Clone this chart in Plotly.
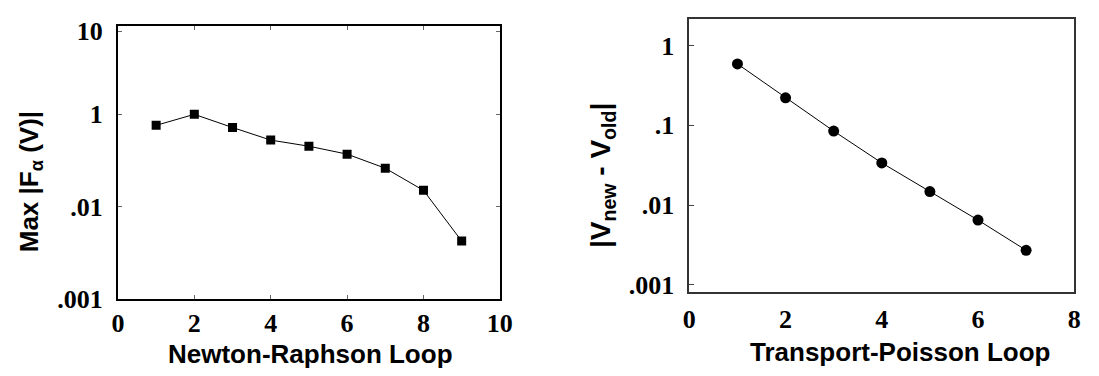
import plotly.graph_objects as go

# ---- data ----
nr_loop = [1, 2, 3, 4, 5, 6, 7, 8, 9]
nr_max_f = [0.578, 1.0, 0.519, 0.277, 0.204, 0.1375, 0.0681, 0.0226, 0.0018]

tp_loop = [1, 2, 3, 4, 5, 6, 7]
tp_diff = [0.588, 0.221, 0.0848, 0.0338, 0.0148, 0.0065, 0.00272]

left_ticks_vals = [10 ** 1.8, 1, 0.01, 1e-4]
left_ticks_text = ["10", "1", ".01", ".001"]
right_ticks_vals = [1, 0.1, 0.01, 0.001]
right_ticks_text = ["1", ".1", ".01", ".001"]
left_x_ticks = [0, 2, 4, 6, 8, 10]
right_x_ticks = [0, 2, 4, 6, 8]

W, H = 1099, 376

fig = go.Figure()
fig.add_trace(go.Scatter(
    x=nr_loop, y=nr_max_f, mode="lines+markers",
    line=dict(color="black", width=1),
    marker=dict(symbol="square", size=9, color="black"),
    xaxis="x", yaxis="y", showlegend=False))
fig.add_trace(go.Scatter(
    x=tp_loop, y=tp_diff, mode="lines+markers",
    line=dict(color="black", width=1),
    marker=dict(symbol="circle", size=11, color="black"),
    xaxis="x2", yaxis="y2", showlegend=False))

tickfont = dict(family="Liberation Serif", size=26, color="black", weight="bold")

fig.update_layout(
    width=W, height=H,
    margin=dict(l=0, r=0, t=0, b=0),
    paper_bgcolor="white", plot_bgcolor="white",
    xaxis=dict(domain=[113 / W, 502 / W], range=[0, 10], tickvals=left_x_ticks,
               showline=True, linecolor="black", linewidth=2, mirror="ticks",
               ticks="inside", ticklen=4, tickcolor="#666", showgrid=False, zeroline=False,
               tickfont=tickfont, ticklabelstandoff=0, anchor="y"),
    yaxis=dict(domain=[1 - 310 / H, 1 - 19 / H], type="log", range=[-4.0, 1.917],
               tickvals=left_ticks_vals, ticktext=left_ticks_text,
               showline=True, linecolor="black", linewidth=2, mirror="ticks",
               ticks="inside", ticklen=4, tickcolor="#666", showgrid=False, zeroline=False,
               tickfont=tickfont, ticklabelstandoff=8, anchor="x"),
    xaxis2=dict(domain=[695 / W, 1087 / W], range=[0, 8], tickvals=right_x_ticks,
                showline=True, linecolor="#333", linewidth=2, mirror=True,
                ticks="", showgrid=False, zeroline=False,
                tickfont=tickfont, ticklabelstandoff=2, anchor="y2"),
    yaxis2=dict(domain=[1 - 303 / H, 1 - 12 / H], type="log", range=[-3.094, 0.329],
                tickvals=right_ticks_vals, ticktext=right_ticks_text,
                showline=True, linecolor="#333", linewidth=2, mirror=True,
                ticks="inside", ticklen=5, tickcolor="#444", showgrid=False, zeroline=False,
                tickfont=tickfont, ticklabelstandoff=8, anchor="x2"),
)

title_font = dict(family="Liberation Sans", size=26, color="black", weight="bold")

fig.add_annotation(text="Newton-Raphson Loop", x=309 / W, y=1 - 369 / H,
                   xref="paper", yref="paper", xanchor="center", yanchor="middle",
                   showarrow=False, font=title_font)
fig.add_annotation(text="Transport-Poisson Loop", x=910 / W, y=1 - 366 / H,
                   xref="paper", yref="paper", xanchor="center", yanchor="middle",
                   showarrow=False, font=title_font)
fig.add_annotation(text="Max |F<sub>α</sub> (V)|", x=24 / W, y=1 - 185 / H,
                   xref="paper", yref="paper", xanchor="center", yanchor="middle",
                   textangle=-90, showarrow=False,
                   font=dict(family="Liberation Sans", size=26, color="black", weight="bold"))
fig.add_annotation(text="|V<sub>new</sub> - V<sub>old</sub>|", x=606 / W, y=1 - 178 / H,
                   xref="paper", yref="paper", xanchor="center", yanchor="middle",
                   textangle=-90, showarrow=False,
                   font=dict(family="Liberation Sans", size=28, color="black", weight="bold"))

fig.write_html("out.html")
